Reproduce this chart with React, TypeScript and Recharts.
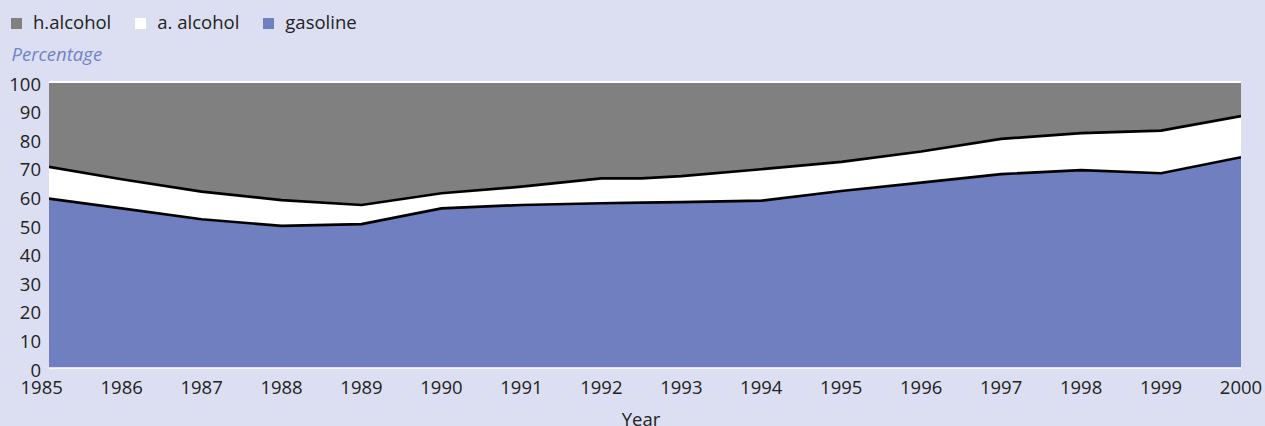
import React from 'react';
import { AreaChart, Area, XAxis, YAxis, Legend } from 'recharts';

// Fuel shares of the Brazilian light-vehicle market (%)
const years = [1985, 1986, 1987, 1988, 1989, 1990, 1991, 1992, 1992.5, 1993, 1994, 1995, 1996, 1997, 1998, 1999, 2000];
const gasoline = [59.6, 55.8, 52.0, 49.7, 50.3, 55.8, 57.0, 57.6, 57.8, 58.0, 58.5, 61.9, 64.8, 67.8, 69.2, 68.1, 73.7];
const anhydrousAlcohol = [11.2, 10.2, 9.7, 9.0, 6.7, 5.3, 6.4, 8.7, 8.5, 9.1, 11.0, 10.2, 10.9, 12.3, 12.9, 14.9, 14.4];
const hydratedAlcohol = [29.2, 34.0, 38.3, 41.3, 43.0, 38.9, 36.6, 33.7, 33.7, 32.9, 30.5, 27.9, 24.3, 19.9, 17.9, 17.0, 11.9];

const yearTicks = [1985, 1986, 1987, 1988, 1989, 1990, 1991, 1992, 1993, 1994, 1995, 1996, 1997, 1998, 1999, 2000];
const percentTicks = [0, 10, 20, 30, 40, 50, 60, 70, 80, 90, 100];
const legendOrder = ['hAlcohol', 'aAlcohol', 'gasoline'];

// cumulative tops so each band's boundary line can be drawn fully on top
const data = years.map((year, i) => ({
  year,
  gasoline: gasoline[i],
  aAlcohol: +(gasoline[i] + anhydrousAlcohol[i]).toFixed(2),
  hAlcohol: +(gasoline[i] + anhydrousAlcohol[i] + hydratedAlcohol[i]).toFixed(2),
}));

const BG = '#dcdff1';
const BLUE = '#6f7fbf';
const GRAY = '#808080';
const TEXT = '#222222';
const FONT = '"Open Sans", "Noto Sans", sans-serif';
const FS = 18.5;

const legendColors: Record<string, string> = {
  hAlcohol: GRAY,
  aAlcohol: '#ffffff',
  gasoline: BLUE,
};

function LegendContent(props: any) {
  const payload = props.payload || [];
  const ordered = legendOrder
    .map((k) => payload.find((p: any) => p.dataKey === k))
    .filter(Boolean);
  return (
    <div style={{ display: 'flex', alignItems: 'baseline', fontFamily: FONT, fontSize: FS, lineHeight: '18px', color: TEXT, whiteSpace: 'nowrap' }}>
      {ordered.map((entry: any) => (
        <span key={entry.dataKey} style={{ marginRight: 24, display: 'inline-flex', alignItems: 'baseline' }}>
          <span style={{ display: 'inline-block', width: 11, height: 11, background: legendColors[entry.dataKey] || entry.color, marginRight: 11 }} />
          <span>{entry.value}</span>
        </span>
      ))}
    </div>
  );
}

export default function App() {
  return (
    <div style={{ position: 'relative', width: 1265, height: 426, background: BG, overflow: 'hidden', fontFamily: FONT }}>
      <style>{'body{margin:0}'}</style>
      <div style={{ position: 'absolute', left: 11.5, top: 45, fontSize: FS, lineHeight: '18px', fontStyle: 'italic', color: '#7282c8', fontFamily: FONT }}>
        Percentage
      </div>
      <AreaChart width={1265} height={426} data={data} margin={{ top: 82, right: 24, bottom: 0, left: 0 }}>
        <XAxis
          type="number"
          dataKey="year"
          domain={[1985.0913, 2000]}
          allowDataOverflow
          ticks={yearTicks}
          interval={0}
          height={58}
          tickLine={false}
          tickSize={0}
          tickMargin={13}
          axisLine={{ stroke: '#ffffff', strokeWidth: 1.5 }}
          tick={{ fill: TEXT, fontSize: FS, fontFamily: FONT }}
          label={{ value: 'Year', position: 'insideBottom', offset: 0, dx: -4, fill: TEXT, fontSize: FS, fontFamily: FONT }}
        />
        <YAxis
          type="number"
          domain={[0, 100]}
          ticks={percentTicks}
          interval={0}
          width={49}
          axisLine={false}
          tickLine={false}
          tickSize={0}
          tickMargin={8}
          tick={{ fill: TEXT, fontSize: FS, fontFamily: FONT, dy: 2 }}
        />
        <Legend
          layout="horizontal"
          verticalAlign="middle"
          align="center"
          wrapperStyle={{ top: 13, left: 11, width: 600, height: 20 }}
          content={<LegendContent />}
        />
        <Area
          type="linear"
          dataKey="hAlcohol"
          name="h.alcohol"
          fill={GRAY}
          fillOpacity={1}
          stroke="#ffffff"
          strokeWidth={2}
          dot={false}
          activeDot={false}
          isAnimationActive={false}
        />
        <Area
          type="linear"
          dataKey="aAlcohol"
          name="a. alcohol"
          fill="#ffffff"
          fillOpacity={1}
          stroke="#000000"
          strokeWidth={2.7}
          dot={false}
          activeDot={false}
          isAnimationActive={false}
        />
        <Area
          type="linear"
          dataKey="gasoline"
          name="gasoline"
          fill={BLUE}
          fillOpacity={1}
          stroke="#000000"
          strokeWidth={2.7}
          dot={false}
          activeDot={false}
          isAnimationActive={false}
        />
      </AreaChart>
    </div>
  );
}
